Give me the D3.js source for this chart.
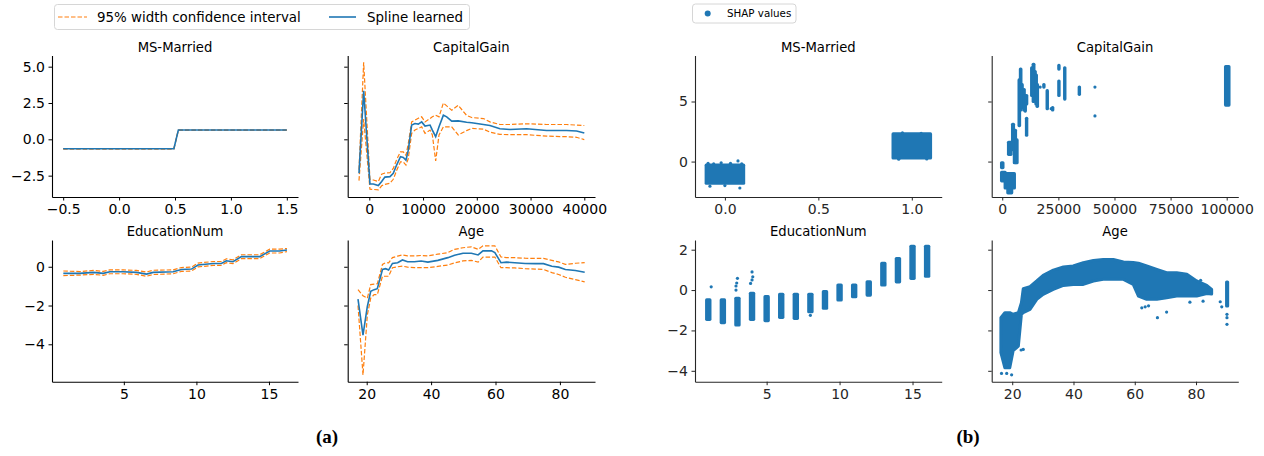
<!DOCTYPE html>
<html>
<head>
<meta charset="utf-8">
<script src="https://cdn.jsdelivr.net/npm/d3@7"></script>
<style>
body { margin: 0; background: #fff; }
svg { display: block; font-family: "DejaVu Sans", sans-serif; }
</style>
</head>
<body>
<svg id="fig" width="1264" height="456"></svg>
<script>
// ---- (a) spline + 95% band ----
var msX      = [-0.5, 0.49, 0.53, 1.5];
var msSpline = [-0.65, -0.65, 0.64, 0.64];
var msUpper  = [-0.63, -0.63, 0.66, 0.66];
var msLower  = [-0.67, -0.67, 0.62, 0.62];

var capX      = [-1920, -1050, 120, 750, 1680, 2300, 2900, 3850, 4460, 5080, 5800, 6320, 6820, 7250, 7880, 8500, 9120, 9740, 10370, 11300, 11730, 12350, 12970, 13780, 14400, 15330, 16550, 18100, 19050, 21230, 22440, 24300, 26160, 29260, 32980, 36700, 38560, 40000];
var capSpline = [-2.34, 3.34, -3.07, -3.07, -3.18, -2.9, -2.6, -2.57, -2.34, -1.77, -1.2, -1.25, -1.43, -0.75, 0.98, 1.09, 1.05, 1.2, 0.91, 0.98, 0.64, 0.18, 0.86, 1.66, 1.55, 1.25, 1.27, 1.18, 1.14, 1.02, 0.95, 0.73, 0.68, 0.73, 0.61, 0.61, 0.57, 0.43];
var capUpper  = [-2.1, 5.3, -2.75, -2.8, -2.9, -2.4, -2.32, -2.3, -2.0, -1.4, -0.86, -0.86, -1.1, -0.3, 1.2, 1.32, 1.45, 1.55, 1.2, 1.43, 1.55, 1.66, 1.55, 2.5, 2.3, 2.0, 2.34, 1.65, 1.5, 1.43, 1.2, 1.02, 1.02, 1.07, 1.02, 1.02, 0.98, 0.95];
var capLower  = [-2.84, 1.4, -3.43, -3.45, -3.48, -3.2, -3.1, -3.02, -2.75, -2.15, -1.55, -1.55, -1.77, -1.32, 0.41, 0.64, 0.75, 0.86, 0.41, 0.64, 0.3, -1.48, 0.3, 0.86, 0.86, 0.86, 0.3, 0.6, 0.75, 0.7, 0.5, 0.34, 0.32, 0.32, 0.22, 0.18, 0.14, -0.02];

var eduX      = [0.83, 1.97, 2.9, 3.58, 4.04, 4.95, 5.87, 6.56, 7.02, 8.4, 8.97, 9.66, 10.11, 11.15, 11.72, 12.06, 12.52, 13.1, 14.36, 15.05, 15.73, 16.24];
var eduSpline = [-0.34, -0.34, -0.29, -0.34, -0.26, -0.26, -0.29, -0.38, -0.29, -0.26, -0.14, -0.12, 0.09, 0.17, 0.17, 0.31, 0.26, 0.52, 0.52, 0.81, 0.81, 0.86];
var eduUpper  = [-0.22, -0.25, -0.19, -0.24, -0.16, -0.16, -0.19, -0.27, -0.18, -0.16, -0.04, -0.02, 0.19, 0.27, 0.27, 0.41, 0.36, 0.62, 0.62, 0.91, 0.91, 0.94];
var eduLower  = [-0.46, -0.43, -0.39, -0.44, -0.36, -0.36, -0.39, -0.49, -0.4, -0.36, -0.24, -0.22, -0.01, 0.07, 0.07, 0.21, 0.16, 0.42, 0.42, 0.71, 0.71, 0.78];

var ageX      = [17.3, 18.85, 20.2, 21.25, 22.3, 23.3, 24.9, 25.9, 26.8, 28, 29.6, 31.1, 32.7, 34.8, 36.9, 39, 42.1, 45.2, 47.3, 49.9, 52.5, 54.6, 56.1, 58.75, 59.8, 61.7, 63.4, 66, 69.2, 72.3, 74.9, 77.5, 79.6, 81.7, 84.8, 87.7];
var ageSpline = [-1.67, -3.53, -2.05, -1.27, -1.18, -1.13, -0.14, -0.1, -0.17, 0.17, 0.21, 0.35, 0.26, 0.26, 0.3, 0.24, 0.33, 0.47, 0.59, 0.7, 0.7, 0.61, 0.82, 0.82, 0.73, 0.21, 0.24, 0.21, 0.17, 0.16, 0.16, 0.03, -0.02, -0.14, -0.19, -0.28];
var ageUpper  = [-1.18, -1.5, -1.62, -0.92, -0.9, -0.88, 0.12, 0.21, 0.2, 0.47, 0.55, 0.61, 0.56, 0.56, 0.58, 0.56, 0.65, 0.73, 0.9, 0.98, 1.03, 0.9, 1.08, 1.08, 1.08, 0.5, 0.47, 0.47, 0.44, 0.43, 0.43, 0.33, 0.25, 0.12, 0.18, 0.21];
var ageLower  = [-2.0, -5.58, -2.49, -1.62, -1.44, -1.44, -0.49, -0.49, -0.49, -0.05, 0.0, 0.03, -0.02, -0.05, -0.05, -0.05, 0.02, 0.09, 0.2, 0.3, 0.33, 0.24, 0.5, 0.5, 0.5, -0.05, -0.05, -0.06, -0.1, -0.12, -0.14, -0.3, -0.4, -0.54, -0.66, -0.78];

// ---- (b) SHAP scatter: dense clusters as [x0, x1, yLow, yHigh], single points as [x, y] ----
var shapMsBlobs  = [[-0.1, 0.1, -1.8, -0.3], [0.9, 1.1, 0.3, 2.3]];
var shapMsPoints = [[-0.09, -0.15], [-0.06, -0.2], [-0.02, -0.1], [0.03, -0.15], [0.07, 0.05], [0.09, -0.2], [-0.08, -2.05], [0.0, -2.0], [0.08, -2.2], [0.95, 2.4], [1.05, 2.35], [0.93, 0.2], [1.08, 0.22]];

var shapCapBlobs = [[-300, 300, -0.5, -0.1], [-300, 1300, -1.6, -0.9], [1300, 5400, -2.2, -1.0], [2500, 4200, -2.6, -2.0],
  [2800, 3900, 0.6, 1.6], [4600, 5000, 1.0, 3.1], [5400, 5900, -0.1, 2.6], [6200, 6600, -0.1, 1.8],
  [7500, 7700, 3.0, 6.8], [8100, 8300, 4.3, 7.7], [8700, 8900, 4.5, 6.4], [9600, 9800, 4.3, 6.0], [10200, 10300, 4.2, 5.5],
  [10800, 10900, 2.2, 3.6], [10800, 10900, 4.8, 5.5], [13100, 13400, 5.5, 7.8], [13800, 14100, 5.0, 8.1], [14400, 14700, 5.5, 7.5],
  [15000, 15200, 4.8, 7.2], [15500, 15700, 4.6, 6.4], [18500, 18600, 6.2, 6.4], [20000, 20100, 4.4, 5.9], [22400, 22500, 4.3, 4.5],
  [25200, 25300, 7.7, 8.0], [25200, 25300, 5.5, 6.7], [27800, 27900, 5.2, 7.8], [34300, 34400, 5.6, 6.2], [99500, 101000, 4.7, 7.9]];
var shapCapPoints = [[41300, 6.2], [41300, 3.8], [21800, 4.4], [16900, 6.2]];

var shapEduX    = [1, 2, 3, 4, 5, 6, 7, 8, 9, 10, 11, 12, 13, 14, 15, 16];
var shapEduLow  = [-1.45, -1.61, -1.73, -1.45, -1.51, -1.35, -1.4, -1.07, -0.9, -0.49, -0.33, -0.25, 0.25, 0.41, 0.58, 0.69];
var shapEduHigh = [-0.49, -0.49, -0.41, -0.16, -0.33, -0.21, -0.21, -0.21, -0.08, 0.25, 0.25, 0.41, 1.32, 1.56, 2.17, 2.17];
var shapEduPoints = [[1.2, 0.16], [2.9, 0.0], [2.9, 0.2], [2.95, 0.35], [3.0, 0.58], [3.9, 0.33], [4.0, 0.5], [4.05, 0.66], [4.0, 0.9], [8.0, -1.25]];

var shapAgeX    = [16.3, 17.6, 19.2, 20.3, 22, 23, 23.6, 25.8, 28, 30.1, 33.4, 36.7, 39.9, 43.2, 46.5, 49.7, 53, 56.3, 59.5, 61.2, 63.9, 67.2, 70.4, 73.7, 77, 80.2, 83.5, 85.1];
var shapAgeHigh = [-1.37, -1.12, -1.12, -1.2, -1.12, -0.63, 0.07, 0.17, 0.45, 0.73, 0.99, 1.14, 1.19, 1.36, 1.47, 1.52, 1.52, 1.39, 1.36, 1.33, 1.19, 1.02, 0.86, 0.86, 0.78, 0.45, 0.23, 0.03];
var shapAgeLow  = [-3.1, -3.85, -3.85, -3.0, -2.78, -1.2, -1.12, -0.96, -0.46, -0.21, 0.03, 0.23, 0.28, 0.28, 0.45, 0.53, 0.53, 0.53, 0.28, -0.3, -0.46, -0.46, -0.38, -0.3, -0.3, -0.3, -0.17, -0.2];
var shapAgeBlobs  = [[90, 90.3, -0.79, 0.4]];
var shapAgePoints = [[16.5, -4.13], [18.2, -4.13], [19.8, -4.2], [23.6, -2.94], [22.9, -2.97], [62.3, -0.88], [63.4, -0.83], [64.5, -0.78], [67.4, -1.37], [70.4, -1.09], [78, -0.6], [82.3, -0.55], [87.9, -0.58], [88.4, -0.83], [81.5, 0.48], [90.1, -1.37], [90.1, -1.7], [90.1, -1.2]];

var blue = "#1f77b4", orange = "#ff7f0e";
var svg = d3.select("#fig");

function makeAxes(o) {
  var x = d3.scaleLinear().domain(o.xdom).range([o.left, o.right]);
  var y = d3.scaleLinear().domain(o.ydom).range([o.bottom, o.top]);
  var g = svg.append("g");
  var col = o.color || "#000";
  g.append("g").attr("transform", "translate(0," + o.bottom + ")")
    .call(d3.axisBottom(x).tickValues(o.xticks).tickFormat(o.xfmt).tickSizeInner(3.5).tickSizeOuter(0).tickPadding(3.5))
    .attr("font-size", 14).attr("font-family", null).attr("color", col);
  g.append("g").attr("transform", "translate(" + o.left + ",0)")
    .call(d3.axisLeft(y).tickValues(o.yticks).tickFormat(o.yfmt).tickSizeInner(3.5).tickSizeOuter(0).tickPadding(3.5))
    .attr("font-size", 14).attr("font-family", null).attr("color", col);
  g.selectAll(".domain").attr("stroke-width", 1.1);
  g.append("text").attr("x", (o.left + o.right) / 2).attr("y", o.top - 4)
    .attr("text-anchor", "middle").attr("font-size", 13.2).attr("fill", "#000").text(o.title);
  var plot = g.append("g");
  return { g: plot, x: x, y: y };
}

function drawBand(ax, xs, mid, up, lo) {
  var line = function(vals) {
    return d3.line().x(function(d, i) { return ax.x(xs[i]); }).y(function(d) { return ax.y(d); })(vals);
  };
  [up, lo].forEach(function(v) {
    ax.g.append("path").attr("d", line(v)).attr("fill", "none").attr("stroke", orange)
      .attr("stroke-width", 1.2).attr("stroke-dasharray", "4.5,2");
  });
  ax.g.append("path").attr("d", line(mid)).attr("fill", "none").attr("stroke", blue).attr("stroke-width", 1.6);
}

var r = 1.6;
function drawBlobs(ax, blobs) {
  ax.g.selectAll(null).data(blobs).enter().append("rect")
    .attr("x", function(d) { return ax.x(d[0]) - r; })
    .attr("width", function(d) { return ax.x(d[1]) - ax.x(d[0]) + 2 * r; })
    .attr("y", function(d) { return ax.y(d[3]) - r; })
    .attr("height", function(d) { return ax.y(d[2]) - ax.y(d[3]) + 2 * r; })
    .attr("rx", r).attr("fill", blue);
}
function drawPoints(ax, pts) {
  ax.g.selectAll(null).data(pts).enter().append("circle")
    .attr("cx", function(d) { return ax.x(d[0]); }).attr("cy", function(d) { return ax.y(d[1]); })
    .attr("r", r).attr("fill", blue);
}

var f1 = d3.format(".1f"), f0 = d3.format("d"), none = function() { return ""; };
var L1 = 52, R1 = 298, L2 = 347.7, R2 = 595, L3 = 695, R3 = 941.7, L4 = 991.7, R4 = 1238.3;
var T1 = 55.5, B1 = 197, T2 = 240, B2 = 381.7;

// (a)
var a1 = makeAxes({ left: L1, right: R1, top: T1, bottom: B1, xdom: [-0.6, 1.6], ydom: [-3.97, 5.77],
  xticks: [-0.5, 0, 0.5, 1, 1.5], yticks: [-2.5, 0, 2.5, 5], xfmt: f1, yfmt: f1, title: "MS-Married" });
drawBand(a1, msX, msSpline, msUpper, msLower);
var a2 = makeAxes({ left: L2, right: R2, top: T1, bottom: B1, xdom: [-4020, 41990], ydom: [-3.97, 5.77],
  xticks: [0, 10000, 20000, 30000, 40000], yticks: [-2.5, 0, 2.5, 5], xfmt: f0, yfmt: none, title: "CapitalGain" });
drawBand(a2, capX, capSpline, capUpper, capLower);
var a3 = makeAxes({ left: L1, right: R1, top: T2, bottom: B2, xdom: [0.05, 17.0], ydom: [-5.93, 1.38],
  xticks: [5, 10, 15], yticks: [-4, -2, 0], xfmt: f0, yfmt: f0, title: "EducationNum" });
drawBand(a3, eduX, eduSpline, eduUpper, eduLower);
var a4 = makeAxes({ left: L2, right: R2, top: T2, bottom: B2, xdom: [14.1, 90.9], ydom: [-5.93, 1.38],
  xticks: [20, 40, 60, 80], yticks: [-4, -2, 0], xfmt: f0, yfmt: none, title: "Age" });
drawBand(a4, ageX, ageSpline, ageUpper, ageLower);

// (b)
var grey = "#262626";
var b1 = makeAxes({ left: L3, right: R3, top: T1, bottom: B1, xdom: [-0.16, 1.16], ydom: [-2.95, 8.83],
  xticks: [0, 0.5, 1], yticks: [0, 5], xfmt: f1, yfmt: f0, title: "MS-Married", color: grey });
drawBlobs(b1, shapMsBlobs); drawPoints(b1, shapMsPoints);
var b2 = makeAxes({ left: L4, right: R4, top: T1, bottom: B1, xdom: [-4700, 105170], ydom: [-2.95, 8.83],
  xticks: [0, 25000, 50000, 75000, 100000], yticks: [0, 5], xfmt: f0, yfmt: none, title: "CapitalGain", color: grey });
drawBlobs(b2, shapCapBlobs); drawPoints(b2, shapCapPoints);
var b3 = makeAxes({ left: L3, right: R3, top: T2, bottom: B2, xdom: [0.09, 17.0], ydom: [-4.54, 2.48],
  xticks: [5, 10, 15], yticks: [-4, -2, 0, 2], xfmt: f0, yfmt: f0, title: "EducationNum", color: grey });
drawBlobs(b3, shapEduX.map(function(x, i) { return [x - 0.11, x + 0.11, shapEduLow[i], shapEduHigh[i]]; }));
drawPoints(b3, shapEduPoints);
var b4 = makeAxes({ left: L4, right: R4, top: T2, bottom: B2, xdom: [13.3, 93.8], ydom: [-4.54, 2.48],
  xticks: [20, 40, 60, 80], yticks: [-4, -2, 0, 2], xfmt: f0, yfmt: none, title: "Age", color: grey });
b4.g.append("path")
  .attr("d", d3.area().x(function(d, i) { return b4.x(shapAgeX[i]); })
    .y0(function(d, i) { return b4.y(shapAgeLow[i]); }).y1(function(d) { return b4.y(d); })(shapAgeHigh))
  .attr("fill", blue).attr("stroke", blue).attr("stroke-width", 3).attr("stroke-linejoin", "round");
drawBlobs(b4, shapAgeBlobs); drawPoints(b4, shapAgePoints);

// legends
var lg = svg.append("g");
lg.append("rect").attr("x", 54.5).attr("y", 4.5).attr("width", 415).attr("height", 25).attr("rx", 3)
  .attr("fill", "#fff").attr("stroke", "#d6d6d6");
lg.append("line").attr("x1", 58).attr("x2", 87).attr("y1", 17).attr("y2", 17)
  .attr("stroke", orange).attr("stroke-width", 1.2).attr("stroke-dasharray", "4.5,2");
lg.append("text").attr("x", 97).attr("y", 22).attr("font-size", 13.4).text("95% width confidence interval");
lg.append("line").attr("x1", 329).attr("x2", 356).attr("y1", 17).attr("y2", 17)
  .attr("stroke", blue).attr("stroke-width", 1.6);
lg.append("text").attr("x", 367).attr("y", 22).attr("font-size", 13.4).text("Spline learned");

lg.append("rect").attr("x", 692.5).attr("y", 4).attr("width", 103.5).attr("height", 19).attr("rx", 3)
  .attr("fill", "#fff").attr("stroke", "#d6d6d6");
lg.append("circle").attr("cx", 707.7).attr("cy", 13.5).attr("r", 3).attr("fill", blue);
lg.append("text").attr("x", 727).attr("y", 17.3).attr("font-size", 10.3).text("SHAP values");

// panel labels
svg.append("text").attr("x", 327).attr("y", 443).attr("text-anchor", "middle")
  .attr("font-family", "Liberation Serif, serif").attr("font-weight", "bold").attr("font-size", 19).text("(a)");
svg.append("text").attr("x", 968).attr("y", 443).attr("text-anchor", "middle")
  .attr("font-family", "Liberation Serif, serif").attr("font-weight", "bold").attr("font-size", 19).text("(b)");
</script>
</body>
</html>
